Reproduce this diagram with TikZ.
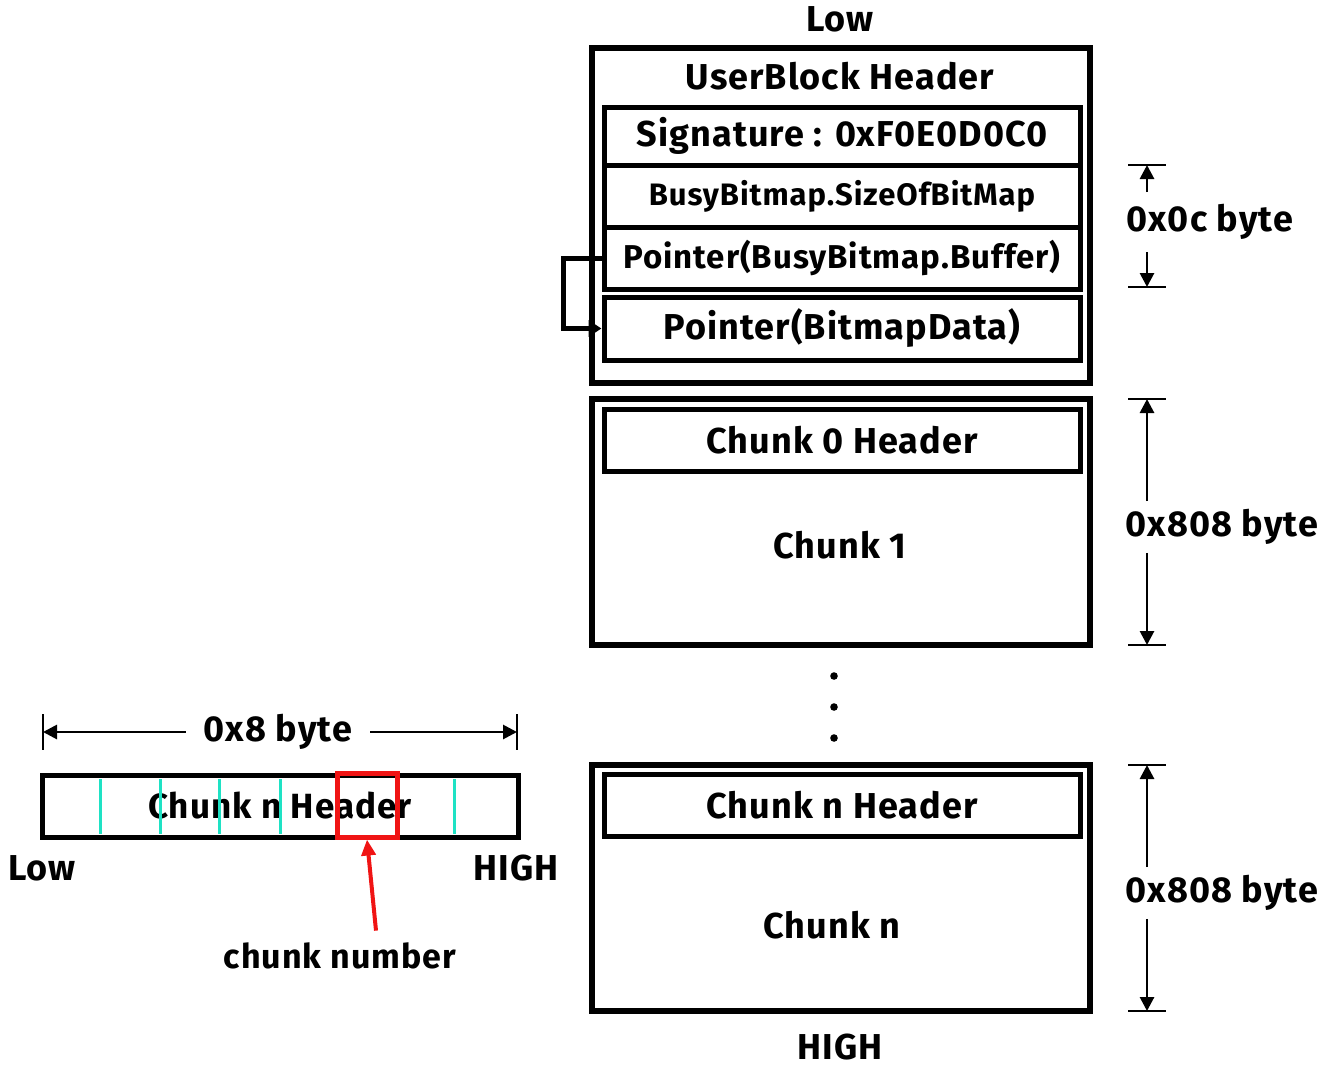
\documentclass[tikz,border=0pt]{standalone}
\usepackage{fontspec}
\setmainfont{Fira Sans}[LetterSpace=3]
\usetikzlibrary{arrows.meta,positioning,calc}
\definecolor{sepcyan}{RGB}{30,226,196}
\definecolor{markred}{RGB}{240,20,20}
\tikzset{
  blk/.style={draw, line width=5.5pt, minimum width=498pt, inner sep=0pt},
  fld/.style={draw, line width=5pt, minimum width=476pt, inner sep=0pt, font=\fontsize{36}{38}\selectfont\bfseries},
  lbl/.style={font=\fontsize{36}{38}\selectfont\bfseries, inner sep=2pt},
  dimbar/.style={line width=2.8pt},
  dimarrow/.style={line width=2.8pt, -{Triangle[length=14pt,width=14pt]}},
  sepline/.style={line width=3pt, draw=sepcyan},
}
\begin{document}
\begin{tikzpicture}[x=1pt,y=-1pt]
  \useasboundingbox (0,0) rectangle (1329,1068);

  % user block
  \node[lbl] (lowtop) at (840,19) {Low};
  \node[blk, minimum height=335pt] (ub) at (841,215.5) {};
  \node[lbl] (ubh) at (840,76) {UserBlock Header};
  \node[fld, minimum height=58pt] (sig) at (842,136) {Signature : 0xF0E0D0C0};
  \node[fld, minimum height=62pt, font=\fontsize{31}{33}\selectfont\bfseries] (bsize) at (842,196) {BusyBitmap.SizeOfBitMap};
  \node[fld, minimum height=62pt, font=\fontsize{33}{35}\selectfont\bfseries] (bbuf) at (842,258) {Pointer(BusyBitmap.Buffer)};
  \node[fld, minimum height=63pt] (bdata) at (842,328.5) {Pointer(BitmapData)};
  \draw[line width=5pt, -{Triangle[length=13pt,width=16pt]}] (bbuf.west) -- ++(-38,0) |- (bdata.west);

  % chunk 1
  \node[blk, minimum height=246pt] (c1) at (841,522) {};
  \node[fld, minimum height=62pt] (c0h) at (842,440) {Chunk 0 Header};
  \node[lbl] (c1t) at (840,545) {Chunk 1};

  % dots
  \foreach \y in {676,707,738} \fill (834,\y) circle (3.8pt);

  % chunk n
  \node[blk, minimum height=246pt] (cn) at (841,888) {};
  \node[fld, minimum height=62pt] (cnh) at (842,805) {Chunk n Header};
  \node[lbl] (cnt) at (832,925) {Chunk n};
  \node[lbl] (hightop) at (840,1047) {HIGH};

  % size marks on the right
  \coordinate (a1) at (1147,165);
  \coordinate (a2) at (1147,287);
  \draw[dimbar] (1128,165) -- (1166,165);
  \draw[dimbar] (1128,287) -- (1166,287);
  \node[lbl] (s0c) at (1210,222) {0x0c byte};
  \draw[dimarrow] (1147,192) -- (a1);
  \draw[dimarrow] (1147,252) -- (a2);

  \coordinate (b1) at (1147,399);
  \coordinate (b2) at (1147,645);
  \draw[dimbar] (1128,399) -- (1166,399);
  \draw[dimbar] (1128,645) -- (1166,645);
  \node[lbl, inner sep=8pt] (s808a) at (1222,527) {0x808 byte};
  \draw[dimarrow] (s808a.north -| b1) -- (b1);
  \draw[dimarrow] (s808a.south -| b2) -- (b2);

  \coordinate (e1) at (1147,765);
  \coordinate (e2) at (1147,1011);
  \draw[dimbar] (1128,765) -- (1166,765);
  \draw[dimbar] (1128,1011) -- (1166,1011);
  \node[lbl, inner sep=8pt] (s808b) at (1222,893) {0x808 byte};
  \draw[dimarrow] (s808b.north -| e1) -- (e1);
  \draw[dimarrow] (s808b.south -| e2) -- (e2);

  % header detail on the left
  \coordinate (tl) at (43,732);
  \coordinate (tr) at (517,732);
  \draw[dimbar] (43,714) -- (43,750);
  \draw[dimbar] (517,714) -- (517,750);
  \node[lbl, inner sep=18pt] (s08) at (278,732) {0x8 byte};
  \draw[dimarrow] (s08.west) -- (tl);
  \draw[dimarrow] (s08.east) -- (tr);

  \node[fld, minimum height=62pt, font=\fontsize{35}{37}\selectfont\bfseries] (hdr) at (280,806) {Chunk n Header};
  \foreach \x in {100,160,219,280,454} \draw[sepline] (\x,779) -- (\x,834);
  \node[draw=markred, line width=5pt, minimum width=60pt, minimum height=64pt, inner sep=0pt] (num) at (367,805) {};
  \node[lbl] (lowl) at (42,868) {Low};
  \node[lbl] (highl) at (516,868) {HIGH};
  \node[lbl, font=\fontsize{34}{36}\selectfont\bfseries] (cnum) at (340,956) {chunk number};
  \draw[line width=4pt, draw=markred, fill=markred, -{Triangle[length=16pt,width=14pt]}] (cnum.north -| 376,0) ++(0,-10) -- (num.south);
\end{tikzpicture}
\end{document}
